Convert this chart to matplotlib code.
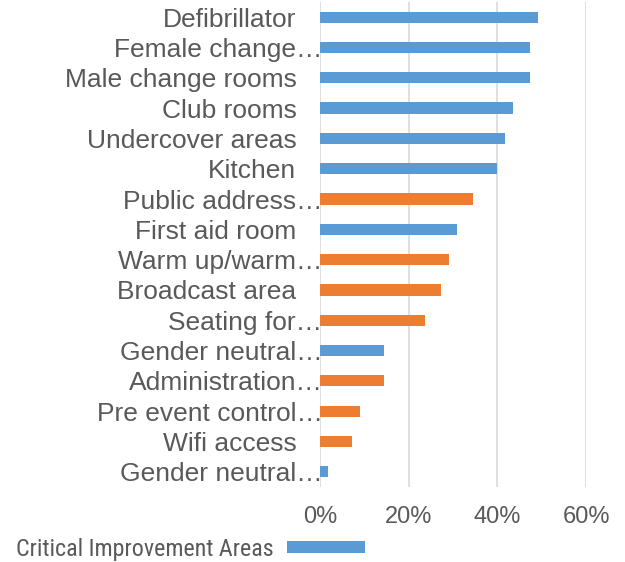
import matplotlib
matplotlib.use("Agg")
import matplotlib.pyplot as plt
from matplotlib.transforms import ScaledTranslation
from matplotlib.patches import Patch

# survey share for each facility (n = 55)
areas = ["Defibrillator", "Female change…", "Male change rooms", "Club rooms",
         "Undercover areas", "Kitchen", "Public address…", "First aid room",
         "Warm up/warm…", "Broadcast area", "Seating for…", "Gender neutral…",
         "Administration…", "Pre event control…", "Wifi access", "Gender neutral…"]
shares = [0.491, 0.473, 0.473, 0.436, 0.418, 0.400, 0.345, 0.309,
          0.291, 0.273, 0.236, 0.145, 0.145, 0.091, 0.073, 0.018]
critical = [True, True, True, True, True, True, False, True,
            False, False, False, True, False, False, False, True]
x_ticks = [0, 0.2, 0.4, 0.6]
x_tick_labels = ["0%", "20%", "40%", "60%"]

blue = "#5B9BD5"
orange = "#ED7D31"
grey = "#595959"

plt.rcParams['font.family'] = ['Liberation Sans', 'DejaVu Sans']

fig = plt.figure(figsize=(6.25, 5.62), dpi=100)
ax = fig.add_axes([0.512, 0.1335, 0.4256, 0.863])

colors = [blue if c else orange for c in critical]
ypos = list(range(len(areas)))
ax.barh(ypos, shares, height=0.37, color=colors, zorder=3)

ax.set_ylim(len(areas) - 0.5, -0.5)
ax.set_xlim(0, 0.6)
ax.set_xticks(x_ticks)
ax.set_xticklabels(x_tick_labels)
ax.set_yticks(ypos)
ax.set_yticklabels(areas)

ax.grid(axis="x", color="#d9d9d9", linewidth=1.2, zorder=0)
for s in ax.spines.values():
    s.set_visible(False)
ax.tick_params(axis="both", length=0, colors=grey)
ax.tick_params(axis="y", labelsize=19, pad=17)
ax.tick_params(axis="x", labelsize=17, pad=14)

# truncated labels hang their ellipsis past the others
shift = ScaledTranslation(26 / 100, 0, fig.dpi_scale_trans)
for lab in ax.get_yticklabels():
    if lab.get_text().endswith("…"):
        lab.set_transform(lab.get_transform() + shift)

handle = Patch(facecolor=blue, edgecolor="none")
leg = fig.legend([handle], ["Critical Improvement Areas"], loc="lower left",
                 bbox_to_anchor=(-0.009, -0.036), frameon=False, markerfirst=False,
                 handlelength=3.25, handleheight=0.4, handletextpad=0.55,
                 prop={"family": ["Roboto Condensed", "Liberation Sans Narrow",
                                  "DejaVu Sans Condensed", "Roboto"], "size": 17.3})
for t in leg.get_texts():
    t.set_color(grey)

fig.savefig("out.png", dpi=100)
